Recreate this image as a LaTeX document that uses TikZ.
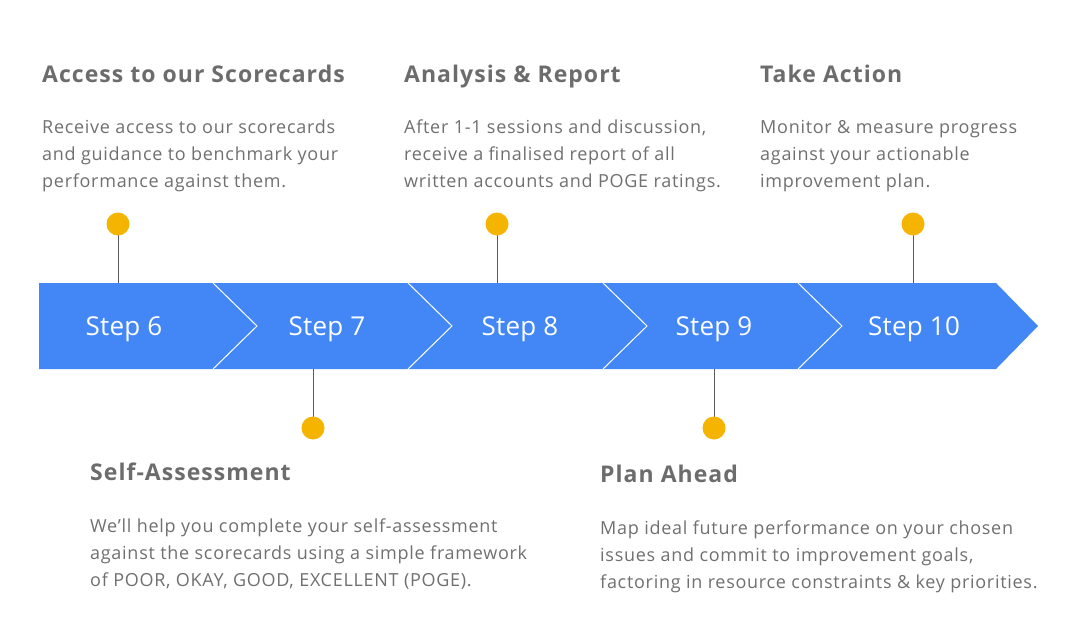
\documentclass[tikz,border=0pt]{standalone}
\usepackage{fontspec}
\setmainfont{Open Sans}
\definecolor{stepblue}{RGB}{66, 135, 245}
\definecolor{dotyellow}{RGB}{244, 180, 0}
\definecolor{headgray}{RGB}{108, 108, 108}
\definecolor{bodygray}{RGB}{112, 112, 112}
\definecolor{stemgray}{RGB}{90, 90, 90}
\tikzset{
	head/.style = {anchor = base west, inner sep = 0, text = headgray, font = \fontsize{23}{27}\selectfont\bfseries\addfontfeatures{LetterSpace=4.5}},
	body/.style = {anchor = base west, inner sep = 0, align = left, text = bodygray, font = \fontsize{18}{27}\selectfont\addfontfeatures{LetterSpace=4}},
	steplabel/.style = {anchor = base, text = white, font = \fontsize{26}{30}\selectfont\addfontfeatures{LetterSpace=1}},
	dot/.style = {circle, fill = dotyellow, minimum size = 23pt, inner sep = 0}
}
\begin{document}
\begin{tikzpicture}[x = 1pt, y = -1pt]
			\useasboundingbox[fill = white] (0,0) rectangle (1078,623);
			% the step band
			\fill[stepblue] (39,283) -- (996,283) -- (1038,326) -- (996,369) -- (39,369) -- cycle;
			\foreach \x in {213,408,603,798}
				\draw[white, line width = 1pt] (\x,283) -- (\x+44,326) -- (\x,369);
			\node (s6) at (124,335) [steplabel] {Step 6};
			\node (s7) at (327,335) [steplabel] {Step 7};
			\node (s8) at (520,335) [steplabel] {Step 8};
			\node (s9) at (714,335) [steplabel] {Step 9};
			\node (s10) at (914,335) [steplabel] {Step 10};
			% pins
			\coordinate (t6) at (118,283);
			\coordinate (t7) at (313,369);
			\coordinate (t8) at (497,283);
			\coordinate (t9) at (714,369);
			\coordinate (t10) at (913,283);
			\draw[stemgray] (t6) -- (118,224) node (d6) [dot] {};
			\draw[stemgray] (t7) -- (313,428) node (d7) [dot] {};
			\draw[stemgray] (t8) -- (497,224) node (d8) [dot] {};
			\draw[stemgray] (t9) -- (714,428) node (d9) [dot] {};
			\draw[stemgray] (t10) -- (913,224) node (d10) [dot] {};
			% texts (base anchor sits on the last line)
			\node (h6) at (42,83) [head] {Access to our Scorecards};
			\node (b6) at (42,187) [body] {Receive access to our scorecards\\and guidance to benchmark your\\performance against them.};
			\node (h8) at (404,83) [head] {Analysis \& Report};
			\node (b8) at (404,187) [body] {After 1-1 sessions and discussion,\\receive a finalised report of all\\written accounts and POGE ratings.};
			\node (h10) at (760,83) [head] {Take Action};
			\node (b10) at (760,187) [body] {Monitor \& measure progress\\against your actionable\\improvement plan.};
			\node (h7) at (90,480) [head] {Self-Assessment};
			\node (b7) at (90,586) [body] {We’ll help you complete your self-assessment\\against the scorecards using a simple framework\\of POOR, OKAY, GOOD, EXCELLENT (POGE).};
			\node (h9) at (600,482) [head] {Plan Ahead};
			\node (b9) at (600,588) [body] {Map ideal future performance on your chosen\\issues and commit to improvement goals,\\factoring in resource constraints \& key priorities.};
\end{tikzpicture}
\end{document}
